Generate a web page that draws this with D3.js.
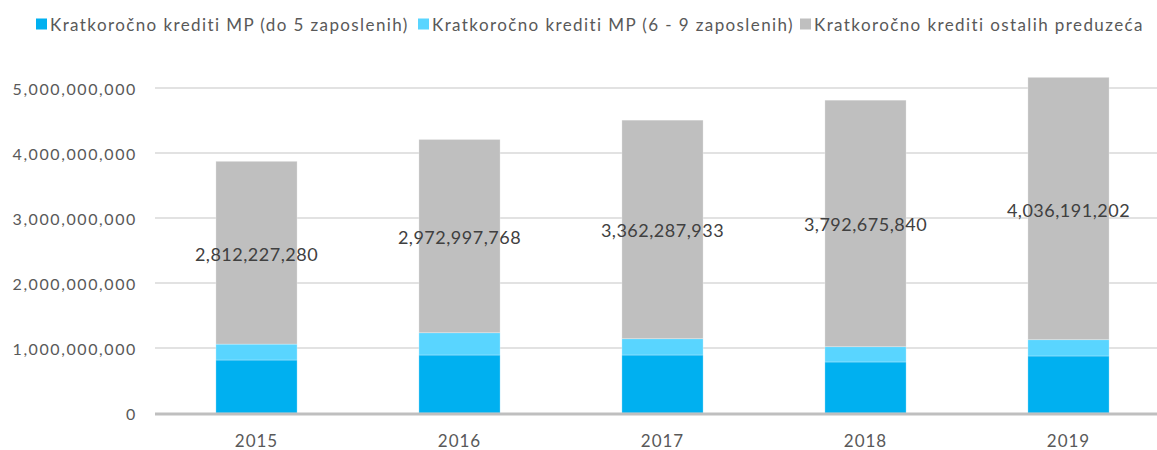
<!DOCTYPE html>
<html><head><meta charset="utf-8">
<script src="https://cdn.jsdelivr.net/npm/d3@7"></script>
<style>body{margin:0;background:#fff;}svg{display:block;font-family:Lato,"Open Sans",sans-serif;}</style>
</head><body>
<svg id="c" width="1157" height="450"></svg>
<script>
const years = ["2015","2016","2017","2018","2019"];
const seriesNames = ["Kratkoročno krediti MP (do 5 zaposlenih)","Kratkoročno krediti MP (6 - 9 zaposlenih)","Kratkoročno krediti ostalih preduzeća"];
const micro5 = [815000000, 892000000, 892000000, 785000000, 877000000];
const micro6to9 = [245000000, 343000000, 251000000, 235000000, 251000000];
const others = [2812227280, 2972997768, 3362287933, 3792675840, 4036191202];
const yTicks = [0,1000000000,2000000000,3000000000,4000000000,5000000000];
const colors = ["#00B0F0","#59D5FF","#BFBFBF"];

const svg = d3.select("#c");
const x = d3.scaleBand().domain(years).range([155,1170]).paddingInner(0.6).paddingOuter(0.3);
const y = d3.scaleLinear().domain([0,5000000000]).range([413,88]);
const fmt = d3.format(",");

// gridlines
svg.append("g").selectAll("line").data(yTicks.slice(1)).join("line")
  .attr("x1",155).attr("x2",1157).attr("y1",d=>y(d)).attr("y2",d=>y(d))
  .attr("stroke","#D9D9D9").attr("stroke-width",1.3);

// y axis labels
const yAxis = d3.axisLeft(y).tickValues(yTicks).tickFormat(fmt).tickSize(0).tickPadding(0);
const ga = svg.append("g").attr("transform","translate(137,1)").call(yAxis);
ga.select(".domain").remove();
ga.selectAll("text").attr("fill","#595959").style("font-size","16px")
  .style("letter-spacing","1.6px").style("font-family","Lato, 'Open Sans', sans-serif");

// stacked data
const rows = years.map((yr,i)=>({year:yr, a:micro5[i], b:micro6to9[i], c:others[i]}));
const stack = d3.stack().keys(["a","b","c"])(rows);
svg.append("g").selectAll("g").data(stack).join("g").attr("fill",(d,i)=>colors[i])
  .selectAll("rect").data(d=>d).join("rect")
  .attr("x",d=>x(d.data.year)).attr("width",x.bandwidth())
  .attr("y",d=>y(d[1])).attr("height",d=>y(d[0])-y(d[1]))
  .attr("stroke","rgba(255,255,255,0.35)").attr("stroke-width",0.8);

// baseline
svg.append("line").attr("x1",155).attr("x2",1157).attr("y1",y(0)+1).attr("y2",y(0)+1)
  .attr("stroke","#BFBFBF").attr("stroke-width",3);

// labels on grey series
svg.append("g").selectAll("text").data(stack[2]).join("text")
  .attr("x",d=>x(d.data.year)+x.bandwidth()/2).attr("y",d=>(y(d[0])+y(d[1]))/2+1)
  .attr("text-anchor","middle").attr("dominant-baseline","central")
  .attr("fill","#404040").style("font-size","18px").style("letter-spacing","0.5px")
  .text(d=>fmt(d.data.c));

// x axis
const xAxis = d3.axisBottom(x).tickSize(0).tickPadding(0);
const gx = svg.append("g").attr("transform","translate(0,435)").call(xAxis);
gx.select(".domain").remove();
gx.selectAll("text").attr("fill","#595959").style("font-size","17px")
  .style("letter-spacing","1px").style("font-family","Lato, 'Open Sans', sans-serif");

// legend
const legendX = [36,418,800];
const lg = svg.append("g").selectAll("g").data(seriesNames).join("g")
  .attr("transform",(d,i)=>`translate(${legendX[i]},0)`);
lg.append("rect").attr("x",0).attr("y",18.5).attr("width",11).attr("height",11).attr("fill",(d,i)=>colors[i]);
lg.append("text").attr("x",14).attr("y",24).attr("dominant-baseline","central")
  .attr("fill","#595959").style("font-size","17px").style("letter-spacing","1.4px").text(d=>d);
</script>
</body></html>
